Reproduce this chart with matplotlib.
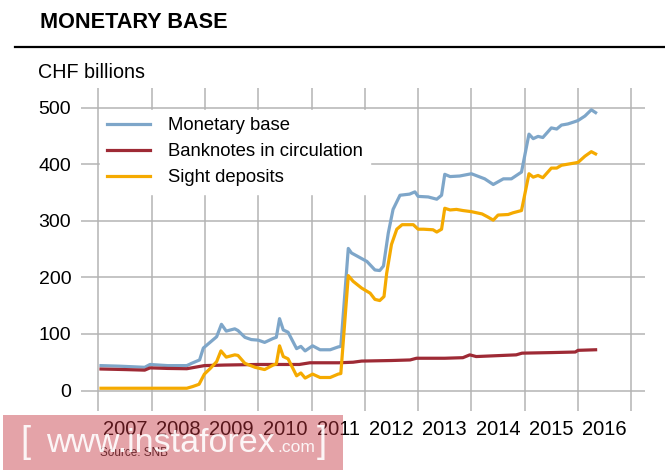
import matplotlib
matplotlib.use("Agg")
import matplotlib.pyplot as plt
from matplotlib.lines import Line2D
from matplotlib.patches import Rectangle

plt.rcParams['font.family'] = ['Liberation Sans', 'DejaVu Sans']

# ---- data (decimal years, CHF billions) ----
mb_t = [2007.05, 2007.4, 2007.87, 2007.97, 2008.3, 2008.66, 2008.75, 2008.9, 2008.97, 2009.07,
        2009.22, 2009.31, 2009.4, 2009.56, 2009.62, 2009.75, 2009.87, 2010.0, 2010.12, 2010.28,
        2010.34, 2010.4, 2010.47, 2010.56, 2010.72, 2010.8, 2010.88, 2011.02, 2011.16, 2011.35,
        2011.5, 2011.55, 2011.69, 2011.75, 2012.04, 2012.19, 2012.28, 2012.35, 2012.44, 2012.53,
        2012.66, 2012.84, 2012.94, 2013.0, 2013.19, 2013.35, 2013.44, 2013.5, 2013.6, 2013.78,
        2014.0, 2014.25, 2014.41, 2014.6, 2014.75, 2014.94, 2015.08, 2015.16, 2015.25, 2015.34,
        2015.5, 2015.6, 2015.69, 2015.81, 2015.94, 2016.0, 2016.13, 2016.25, 2016.33]
mb_v = [44, 43, 41, 46, 44, 44, 48, 54, 75, 83,
        95, 117, 105, 109, 106, 94, 90, 89, 85, 92,
        94, 127, 107, 103, 74, 78, 70, 79, 72, 72,
        77, 78, 251, 243, 228, 213, 212, 220, 278, 320,
        345, 347, 351, 343, 342, 338, 345, 382, 378, 379,
        383, 374, 364, 374, 374, 386, 453, 445, 449, 447,
        464, 462, 469, 471, 475, 477, 485, 496, 491]

bn_t = [2007.05, 2007.5, 2007.87, 2007.97, 2008.3, 2008.66, 2008.99, 2009.37, 2010.0, 2010.38,
        2010.77, 2010.97, 2011.51, 2011.78, 2011.94, 2012.5, 2012.85, 2012.97, 2013.5, 2013.84,
        2013.97, 2014.09, 2014.84, 2014.95, 2015.5, 2015.95, 2016.0, 2016.33]
bn_v = [38, 37, 36, 40, 39, 38.5, 44, 45, 46, 46,
        46, 49, 49, 50, 52, 53, 54, 57, 57, 58,
        63, 60, 63, 66, 67, 68, 71, 72]

sd_t = [2007.05, 2007.5, 2008.0, 2008.66, 2008.77, 2008.89, 2008.99, 2009.1, 2009.22, 2009.3,
        2009.4, 2009.56, 2009.62, 2009.75, 2009.94, 2010.12, 2010.28, 2010.34, 2010.4, 2010.47,
        2010.56, 2010.72, 2010.8, 2010.88, 2011.02, 2011.16, 2011.35, 2011.5, 2011.55, 2011.69,
        2011.78, 2011.94, 2012.1, 2012.19, 2012.28, 2012.36, 2012.41, 2012.5, 2012.6, 2012.7,
        2012.91, 2013.0, 2013.1, 2013.28, 2013.35, 2013.44, 2013.5, 2013.6, 2013.72, 2013.84,
        2014.0, 2014.2, 2014.3, 2014.41, 2014.5, 2014.69, 2014.78, 2014.94, 2015.08, 2015.16,
        2015.25, 2015.34, 2015.5, 2015.6, 2015.69, 2015.94, 2016.0, 2016.13, 2016.25, 2016.33]
sd_v = [4, 4, 4, 4, 7, 11, 29, 39, 51, 70,
        59, 63, 62, 48, 41, 37, 45, 47, 79, 60,
        56, 26, 31, 22, 29, 23, 23, 29, 30, 203,
        193, 181, 172, 161, 159, 166, 207, 258, 285, 293,
        293, 285, 285, 284, 280, 285, 322, 319, 320, 318,
        316, 312, 307, 301, 310, 311, 314, 318, 383, 377,
        380, 376, 393, 393, 398, 402, 403, 414, 422, 418]

years = list(range(2007, 2017))
year_labels = [str(y) for y in years]
y_ticks = [0, 100, 200, 300, 400, 500]
labels = ['Monetary base', 'Banknotes in circulation', 'Sight deposits']
colors = ['#7ea6c9', '#9e2a35', '#f5aa00']

W, H = 665, 475
fig = plt.figure(figsize=(W / 100, H / 100), dpi=100)
ax = fig.add_axes([81 / W, 1 - 411 / H, (645 - 81) / W, (411 - 88) / H])

x0, x1 = 2006.675, 2017.257
y0, y1 = -36.2, 534.5
ax.set_xlim(x0, x1)
ax.set_ylim(y0, y1)
for s in ax.spines.values():
    s.set_visible(False)

grid_c = '#b4b4b4'
ax.hlines(y_ticks, x0, x1, colors=grid_c, lw=1.1, zorder=1)
ax.vlines(years + [2017], y0, y1, colors=grid_c, lw=1.1, zorder=1)

ax.plot(mb_t, mb_v, color=colors[0], lw=2.3, label=labels[0], zorder=3)
ax.plot(bn_t, bn_v, color=colors[1], lw=2.3, label=labels[1], zorder=3)
ax.plot(sd_t, sd_v, color=colors[2], lw=2.3, label=labels[2], zorder=3)

ax.set_yticks(y_ticks)
ax.set_yticklabels([str(v) for v in y_ticks], fontsize=14)
ax.set_xticks([y + 0.5 for y in years])
ax.set_xticklabels(year_labels, fontsize=14.5)
ax.tick_params(axis='y', length=0, pad=7)
ax.tick_params(axis='x', length=0, pad=6.5)

leg = ax.legend(loc='upper left', bbox_to_anchor=(100 / W, 1 - 110 / H),
                bbox_transform=fig.transFigure, borderaxespad=0, fontsize=13.3,
                frameon=True, fancybox=False, framealpha=1, edgecolor='white',
                facecolor='white', handlelength=2.32, handletextpad=0.95,
                labelspacing=0.48, borderpad=0.4)
leg.set_zorder(4)

fig.text(40 / W, 1 - 23 / H, 'MONETARY BASE', fontsize=15.6, fontweight='bold',
         va='center', ha='left')
fig.add_artist(Line2D([15 / W, 1.0], [1 - 47 / H, 1 - 47 / H], color='black', lw=1.6))
fig.text(38 / W, 1 - 72 / H, 'CHF billions', fontsize=14.2, va='center', ha='left')

fig.text(100 / W, 1 - 453 / H, 'Source: SNB', fontsize=8.5, va='center', ha='left',
         color='#222222')

# watermark
fig.add_artist(Rectangle((3 / W, 1 - 470 / H), 340 / W, 55 / H, transform=fig.transFigure,
                         facecolor='#c5333e', alpha=0.45, edgecolor='none', zorder=10))
fig.text(20 / W, 1 - 443 / H, '[', fontsize=26, color='white', va='center', ha='left',
         zorder=11, alpha=0.9)
fig.text(46 / W, 1 - 444 / H, 'www.instaforex', fontsize=24.5, color='white', va='center',
         ha='left', zorder=11, alpha=0.9)
fig.text(277 / W, 1 - 448 / H, '.com', fontsize=12.5, color='white', va='center', ha='left',
         zorder=11, alpha=0.9)
fig.text(317 / W, 1 - 443 / H, ']', fontsize=26, color='white', va='center', ha='left',
         zorder=11, alpha=0.9)

fig.savefig('out.png', dpi=100)
